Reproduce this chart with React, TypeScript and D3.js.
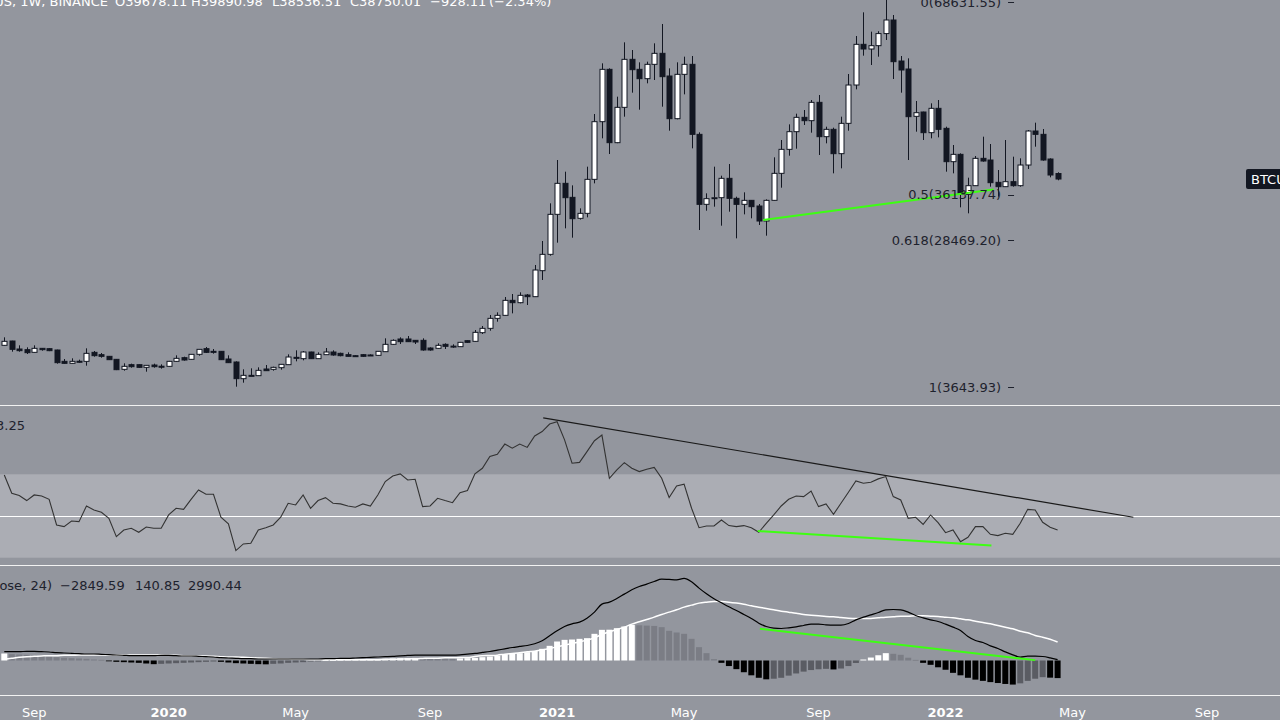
import React from "react";
import * as d3 from "d3";

const W = 1280;
const H = 720;
const START = Date.UTC(2019, 7, 5);
const WEEK_MS = 7 * 24 * 3600 * 1000;

// Weekly BTC/USDT candles, Aug 5 2019 .. Apr 18 2022
const open = [10677,11408,10058,9945,9495,10170,10114,9889,7975,7638,7990,7975,9495,9101,8820,8313,6626,7413,7413,6962,7356,7150,7132,7975,8594,8313,9157,10114,9664,9664,8369,7863,5050,5612,5556,6682,6626,6906,7413,8650,8426,9551,8426,9101,9551,9326,9101,8932,9101,9050,8988,9607,10845,11746,11746,11521,11521,10226,10170,10845,10452,10452,11464,11352,12813,13545,15233,15739,18271,17877,19172,18890,23280,26036,32789,38022,35657,32113,32956,38696,48430,57265,44886,50850,58953,57265,55689,58109,59966,56140,48937,56421,58109,46292,34476,35500,35601,38865,35489,34476,35151,34195,31662,35151,39709,43760,46742,49162,48599,51694,45898,47137,43029,48149,54620,61485,60697,61260,63300,65593,58672,57322,49331,50063,46574,50682,47306,41678,42916,36164,37626,42241,41959,38190,37458,38302,37627,41115,46855,46292,42128,39678.11];
const high = [12027,11450,10677,10339,10677,10226,10200,9950,8369,8482,8257,10170,9720,9382,8850,8350,7638,7582,7450,7350,7582,7469,8050,8988,8763,9200,10050,10395,10058,9700,8988,7975,6626,6794,6962,7356,7075,7500,9157,9832,9720,9600,9495,10226,9832,9439,9495,9000,9200,9150,9700,11858,11690,12027,12252,11577,11858,10339,11014,11014,10845,11250,11500,13265,13939,15796,16246,18834,19340,19622,19340,24236,28288,34646,41961,39991,37683,33800,40834,49725,58278,57434,52650,61823,60529,58447,58560,61654,64918,57434,58447,59403,59515,46630,36333,40834,39315,41283,35770,36502,35208,34532,35320,42410,45335,47980,49781,50400,52088,52932,47587,47418,49275,56477,62892,66887,63623,63700,69000,66437,59515,59122,51919,50119,51525,52088,47587,44492,43085,38977,42635,45899,44661,40271,45335,42522,42241,47024,48262,47193,42241,39890.98];
const low = [10600,9607,9607,9213,9450,9776,9700,7582,7582,7582,7751,7244,8763,8594,8200,6500,6400,6906,6900,6231,6906,6738,7050,7863,8088,8250,8932,9382,9270,8200,7700,3699,4374,5500,5500,6400,6400,6569,7400,7975,8144,8400,8400,9050,8932,8820,8800,8820,8750,8950,8950,9550,10733,10902,11250,10902,9776,9776,10114,10058,10226,10400,11100,11295,12588,13151,14670,15700,16077,17765,17483,18850,21704,25811,28006,30425,28849,31900,32281,38020,45618,42972,44800,49275,53326,50456,54902,55464,50962,46911,48825,53044,43929,30143,33407,34082,30875,33238,28736,32788,32113,30987,29186,35100,37289,42691,43873,47868,46573,42804,44773,39709,40553,46911,53888,59572,57997,59400,62216,55633,53326,41959,46742,45335,45617,45785,39991,39709,33970,32957,37570,41678,37458,35770,37400,37458,37458,40440,44211,41847,39034,38536.51];
const close = [11352,10001,9776,9439,10170,9945,9776,7751,7638,7975,7960,9326,8932,8820,8257,6569,7132,7075,6962,7300,7075,7132,7975,8482,8200,9157,10001,9495,9600,8257,7751,5050,5612,5590,6456,6400,6962,7469,8707,8500,9551,8426,9157,9551,9045,8932,8820,8900,8820,9000,9664,10845,11521,11295,11295,11239,9889,9889,10677,10508,10540,11183,11183,12871,13545,15233,15739,18271,17877,19115,18890,23392,26036,32789,38022,35602,32056,32956,38696,48430,57265,44886,50850,58953,57209,55689,58109,59966,56027,48937,56421,58109,46292,34476,35433,35600,38865,35489,34476,35151,34082,31662,35151,39709,43760,46742,49162,48599,51694,45898,47137,43029,48149,54620,61485,60697,61260,63300,65593,58559,57153,49274,49950,46574,50682,47137,41678,42916,36164,37626,42241,41790,38133,37458,38302,37627,41115,46855,46292,41959,39428,38750.01];

// RSI (14)
const rsi = [69.7,60.9,59.8,57.4,60.1,59.6,58.0,45.7,44.9,47.6,47.3,54.8,52.9,51.8,48.9,40.1,43.3,44.1,42.2,44.7,44.1,44.1,50.5,53.7,53.2,58.0,62.5,60.4,60.4,49.4,46.2,33.4,36.6,36.9,43.3,44.4,45.7,49.4,56.1,55.3,60.1,53.7,57.4,58.8,56.1,55.8,54.8,54.2,55.8,54.8,60.1,66.5,69.2,70.2,67.3,67.6,54.5,54.8,58.5,57.4,56.4,61.2,62.2,70.2,72.9,78.5,79.6,84.5,82.5,84.5,82.9,88.4,90.5,94.1,95.2,86.5,75.3,75.7,80.9,86.1,88.8,68.1,72.1,75.6,72.9,71.3,72.4,73.3,68.1,58.9,64.4,65.3,53.7,44.4,45.2,45.2,48.1,45.4,44.9,45.4,44.4,42.2,46.5,50.5,54.8,58.0,59.6,59.3,62.0,54.5,55.8,50.8,56.1,61.4,66.8,65.7,66.2,67.8,68.9,59.3,57.7,48.9,49.4,46.0,50.5,46.8,42.0,43.3,37.7,39.8,44.9,44.9,41.2,40.6,41.7,41.2,46.5,53.2,52.9,47.0,44.6,43.25];

// MACD
const macd = [1431,1431,1431,1485,1485,1431,1377,1269,1215,1161,1107,1053,1053,999,945,891,837,783,783,783,783,837,837,783,729,729,675,621,567,459,405,351,297,297,243,243,243,243,243,243,243,243,243,297,297,351,351,405,459,513,567,621,675,761,815,869,869,869,869,869,869,923,1031,1139,1301,1463,1679,1895,2111,2273,2435,2705,3191,4001,4811,5513,5945,6215,6863,7835,9131,9455,10049,10751,11453,11993,12371,12803,13181,13127,13073,13289,12749,11723,10805,9995,9342,8694,8100,7452,6804,6048,5508,5238,5184,5292,5454,5670,5886,5886,5778,5724,5724,5994,6588,7020,7398,7776,8208,8262,8208,7830,7290,6912,6588,6318,5886,5400,4860,3888,3240,2916,2376,1944,1404,918,540,702,702,648,432,140.85];
const signal = [189,351,513,621,675,729,783,783,837,837,891,891,891,891,891,891,891,891,891,891,891,891,837,837,783,783,729,729,675,621,567,567,513,459,405,351,297,243,243,189,189,135,135,135,135,135,135,135,135,135,135,189,189,221,275,275,329,383,383,437,437,491,491,653,761,815,869,1031,1139,1247,1409,1517,1733,1949,2219,2489,2759,3029,3299,3677,4217,4649,5027,5405,5891,6269,6647,7025,7457,7835,8213,8645,8969,9293,9455,9563,9540,9450,9300,9100,8856,8640,8424,8208,7992,7830,7668,7452,7344,7236,7128,7074,6966,6858,6804,6804,6804,6912,7020,7074,7182,7182,7236,7236,7182,7128,7020,6912,6750,6588,6372,6156,5940,5670,5400,5130,4752,4482,4050,3780,3456,2990.44];
const hist = [1134,1026,972,918,864,756,648,540,432,378,324,270,162,108,-108,-216,-270,-324,-378,-486,-594,-540,-486,-432,-378,-324,-270,-216,-162,-216,-324,-432,-486,-540,-594,-620,-540,-486,-378,-324,-270,-162,-108,54,81,108,135,162,189,200,216,270,324,378,400,420,400,390,380,350,320,340,380,432,540,648,810,1026,1134,1188,1350,1566,1890,2376,3078,3348,3400,3510,3618,4320,4968,4990,5238,5508,5778,5700,5650,5600,5400,4806,4536,4320,3510,2160,1188,216,-378,-900,-1400,-1900,-2400,-2800,-3050,-2950,-2800,-2450,-2100,-1800,-1550,-1420,-1350,-1450,-1300,-900,-400,160,480,850,1190,1080,920,450,100,-378,-700,-1100,-1500,-2000,-2400,-2800,-3100,-3300,-3500,-3650,-3800,-3900,-3700,-3300,-2950,-2700,-2780,-2849.59];

const tickDates = ["2019-09-02","2020-01-06","2020-05-04","2020-09-07","2021-01-04","2021-05-03","2021-09-06","2022-01-03","2022-05-02","2022-09-05"];
const tickLabels = ["Sep","2020","May","Sep","2021","May","Sep","2022","May","Sep"];

const fibLevels = ["0","0.5","0.618","1"];
const fibPrices = [68631.55, 36137.74, 28469.20, 3643.93];
const fibLabelDate = "2022-02-24";

const priceGreen = [{ date: "2021-07-16", value: 31830 }, { date: "2022-02-17", value: 37000 }];
const rsiTrend = [{ date: "2020-12-22", value: 97.1 }, { date: "2022-06-28", value: 49.4 }];
const rsiGreen = [{ date: "2021-07-11", value: 42.8 }, { date: "2022-02-15", value: 35.8 }];
const macdGreen = [{ date: "2021-07-13", value: 5135 }, { date: "2022-03-28", value: 60 }];

const BG = "#93969e";
const BAND = "#abadb4";
const DARK = "#131722";
const GREEN = "#3dff12";
const FONT = "'DejaVu Sans', sans-serif";

const dates = open.map((_, i) => new Date(START + i * WEEK_MS));
const pd = (s: string) => new Date(s + "T00:00:00Z");

export default function App() {
  const x = d3.scaleUtc().domain([dates[0], dates[dates.length - 1]]).range([4.3, 1057.6]);
  const yP = d3.scaleLinear().domain([3643.93, 68631.55]).range([387, 2]);
  const yR = d3.scaleLinear().domain([30, 70]).range([557.7, 474.3]);
  const yM = d3.scaleLinear().domain([0, 16200]).range([660.5, 560.5]);

  const rsiLine = d3.line<number>().x((_, i) => x(dates[i])).y((d) => yR(d));
  const macdLine = d3.line<number>().x((_, i) => x(dates[i])).y((d) => yM(d)).curve(d3.curveMonotoneX);
  const segLine = d3.line<{ date: string; value: number }>().x((d) => x(pd(d.date)));

  const histColor = (i: number) => {
    const v = hist[i];
    const prev = i > 0 ? hist[i - 1] : -Infinity;
    if (v >= 0) return prev < v ? "#ffffff" : "#7b7d85";
    return prev < v ? "#5a5c63" : "#000000";
  };

  const lastY = yP(close[close.length - 1]);
  const fibX = x(pd(fibLabelDate));

  return (
    <svg width={W} height={H} style={{ position: "fixed", left: 0, top: 0, display: "block" }} xmlns="http://www.w3.org/2000/svg">
      <defs>
        <clipPath id="cp-price"><rect x={0} y={0} width={W} height={405} /></clipPath>
        <clipPath id="cp-rsi"><rect x={0} y={406} width={W} height={159} /></clipPath>
        <clipPath id="cp-macd"><rect x={0} y={566} width={W} height={129} /></clipPath>
      </defs>
      <rect x={0} y={0} width={W} height={H} fill={BG} />

      {/* Price pane */}
      <g clipPath="url(#cp-price)">
        {dates.map((d, i) => {
          const cx = Math.round(x(d));
          const up = close[i] >= open[i];
          const top = yP(Math.max(open[i], close[i]));
          const bot = yP(Math.min(open[i], close[i]));
          const h = Math.max(1, bot - top);
          return (
            <g key={i}>
              <line x1={cx + 0.5} x2={cx + 0.5} y1={yP(high[i])} y2={yP(low[i])} stroke={DARK} strokeWidth={1} />
              <rect x={cx - 2} y={top} width={5} height={h} fill={up ? "#ffffff" : DARK} stroke={DARK} strokeWidth={1} />
            </g>
          );
        })}
        <path d={segLine.y((d) => yP(d.value))(priceGreen) || ""} stroke={GREEN} strokeWidth={2} fill="none" />
        {fibLevels.map((lv, i) => (
          <g key={lv}>
            <text x={fibX} y={yP(fibPrices[i])} dy="0.36em" textAnchor="end" fontFamily={FONT} fontSize={13} fill="#1e222d">
              {`${lv}(${fibPrices[i].toFixed(2)})`}
            </text>
            <line x1={fibX + 7} x2={fibX + 13} y1={Math.round(yP(fibPrices[i])) + 0.5} y2={Math.round(yP(fibPrices[i])) + 0.5} stroke="#1e222d" strokeWidth={1} />
          </g>
        ))}
        <text y={6} fontFamily={FONT} fontSize={13} fill="#ffffff">
          <tspan x={108} textAnchor="end">Bitcoin / TetherUS, 1W, BINANCE</tspan>
          <tspan x={115}>O39678.11</tspan>
          <tspan x={191}>H39890.98</tspan>
          <tspan x={272}>L38536.51</tspan>
          <tspan x={350}>C38750.01</tspan>
          <tspan x={430}>−928.11</tspan>
          <tspan x={489}>(−2.34%)</tspan>
        </text>
        <rect x={1246} y={lastY - 10} width={60} height={20} rx={2} fill={DARK} />
        <text x={1251} y={lastY} dy="0.36em" fontFamily={FONT} fontSize={13} fill="#ffffff">BTCUSDT</text>
      </g>
      <line x1={0} x2={W} y1={405.5} y2={405.5} stroke="#f2f2f2" strokeWidth={1} />

      {/* RSI pane */}
      <g clipPath="url(#cp-rsi)">
        <rect x={0} y={yR(70)} width={W} height={yR(30) - yR(70)} fill={BAND} />
        <line x1={0} x2={W} y1={Math.round(yR(50)) + 0.5} y2={Math.round(yR(50)) + 0.5} stroke="#ffffff" strokeWidth={1} />
        <path d={rsiLine(rsi) || ""} stroke="#333333" strokeWidth={1.1} fill="none" />
        <path d={segLine.y((d) => yR(d.value))(rsiTrend) || ""} stroke="#1a1a1a" strokeWidth={1.2} fill="none" />
        <path d={segLine.y((d) => yR(d.value))(rsiGreen) || ""} stroke={GREEN} strokeWidth={2} fill="none" />
        <text x={25} y={425} dy="0.36em" textAnchor="end" fontFamily={FONT} fontSize={13} fill="#1e222d">RSI (14) 43.25</text>
      </g>
      <line x1={0} x2={W} y1={565.5} y2={565.5} stroke="#f2f2f2" strokeWidth={1} />

      {/* MACD pane */}
      <g clipPath="url(#cp-macd)">
        {hist.map((v, i) => {
          const cx = x(dates[i]);
          const y0 = yM(0);
          const y1 = yM(v);
          return (
            <rect key={i} x={cx - 3} y={Math.min(y0, y1)} width={6} height={Math.max(0.8, Math.abs(y1 - y0))} fill={histColor(i)} />
          );
        })}
        <path d={macdLine(signal) || ""} stroke="#ffffff" strokeWidth={1.5} fill="none" />
        <path d={macdLine(macd) || ""} stroke="#000000" strokeWidth={1.2} fill="none" />
        <path d={segLine.y((d) => yM(d.value))(macdGreen) || ""} stroke={GREEN} strokeWidth={2} fill="none" />
        <text y={585} dy="0.36em" fontFamily={FONT} fontSize={13} fill="#1e222d">
          <tspan x={52} textAnchor="end">MACD (12, 26, close, 24)</tspan>
          <tspan x={60}>−2849.59</tspan>
          <tspan x={135}>140.85</tspan>
          <tspan x={188}>2990.44</tspan>
        </text>
      </g>
      <line x1={0} x2={W} y1={695.5} y2={695.5} stroke="#f2f2f2" strokeWidth={1} />

      {/* Time axis */}
      {tickDates.map((t, i) => {
        const isYear = /^\d{4}$/.test(tickLabels[i]);
        return (
          <text key={t} x={x(pd(t))} y={712} dy="0.36em" textAnchor="middle" fontFamily={FONT} fontSize={13} fontWeight={isYear ? "bold" : "normal"} fill="#ffffff">
            {tickLabels[i]}
          </text>
        );
      })}
    </svg>
  );
}
